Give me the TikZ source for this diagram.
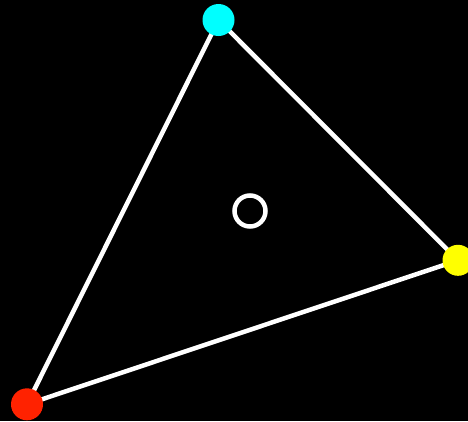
\documentclass[tikz,border=0pt]{standalone}
\definecolor{cyandot}{RGB}{0,255,255}
\definecolor{yellowdot}{RGB}{255,255,0}
\definecolor{reddot}{RGB}{255,34,0}
\tikzset{
  edge/.style={white, line width=4.5pt},
  dot/.style={circle, inner sep=0pt, minimum size=32pt},
  ring/.style={circle, draw=white, line width=4.5pt, inner sep=0pt, minimum size=31pt}
}
\begin{document}
\begin{tikzpicture}[x=1pt,y=-1pt]
\fill[black] (0,0) rectangle (468,421);
\useasboundingbox (0,0) rectangle (468,421);
\coordinate (c) at (218.5,20);
\coordinate (y) at (458,260.3);
\coordinate (r) at (27,404.3);
\draw[edge] (c) -- (y) -- (r) -- cycle;
\node[dot, fill=cyandot] (cn) at (c) {};
\node[dot, fill=yellowdot, minimum size=31pt] (yn) at (y) {};
\node[dot, fill=reddot] (rn) at (r) {};
\node[ring] (o) at (250,211) {};
\end{tikzpicture}
\end{document}
